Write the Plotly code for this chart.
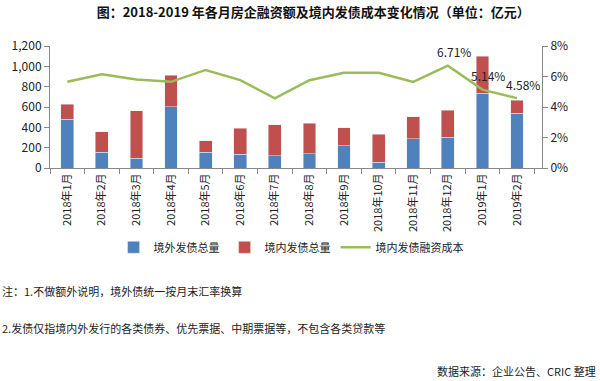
import plotly.graph_objects as go

months = ["2018年1月", "2018年2月", "2018年3月", "2018年4月", "2018年5月", "2018年6月", "2018年7月",
          "2018年8月", "2018年9月", "2018年10月", "2018年11月", "2018年12月", "2019年1月", "2019年2月"]
overseas = [479, 153, 98, 603, 153, 137, 120, 140, 221, 55, 287, 303, 734, 538]
totals = [626, 358, 561, 913, 267, 391, 424, 440, 397, 333, 505, 567, 1099, 665]
domestic = [t - o for t, o in zip(totals, overseas)]
cost = [5.65, 6.15, 5.8, 5.65, 6.43, 5.76, 4.57, 5.76, 6.24, 6.24, 5.65, 6.71, 5.14, 4.58]
labeled = {"2018年12月": "6.71%", "2019年1月": "5.14%", "2019年2月": "4.58%"}

FONT = "Noto Sans CJK SC"
BLUE = "#4F81BD"
RED = "#C0504D"
GREEN = "#9BBB59"

fig = go.Figure()
fig.add_trace(go.Bar(x=months, y=overseas, name="境外发债总量", marker_color=BLUE))
fig.add_trace(go.Bar(x=months, y=domestic, name="境内发债总量", marker_color=RED))
fig.add_trace(go.Scatter(x=months, y=cost, name="境内发债融资成本", mode="lines",
                         line=dict(color=GREEN, width=2.5), yaxis="y2"))

annotations = []
for m, c in zip(months, cost):
    if m in labeled:
        annotations.append(dict(x=m, y=c, xref="x", yref="y2", text=labeled[m], showarrow=False,
                                xshift=6, yshift=14, font=dict(size=12, color="#222", family=FONT)))

annotations += [
    dict(text="注：1.不做额外说明，境外债统一按月末汇率换算", xref="paper", yref="paper",
         x=-0.1017, y=(168.3 - 292) / 122.6, xanchor="left", yanchor="middle", showarrow=False,
         font=dict(size=11, color="#222", family=FONT)),
    dict(text="2.发债仅指境内外发行的各类债券、优先票据、中期票据等，不包含各类贷款等", xref="paper", yref="paper",
         x=-0.1017, y=(168.3 - 329) / 122.6, xanchor="left", yanchor="middle", showarrow=False,
         font=dict(size=11, color="#222", family=FONT)),
    dict(text="数据来源：企业公告、CRIC 整理", xref="paper", yref="paper",
         x=(598 - 50) / 491.7, y=(168.3 - 372) / 122.6, xanchor="right", yanchor="middle", showarrow=False,
         font=dict(size=11, color="#222", family=FONT)),
]

fig.update_layout(
    width=600, height=381,
    margin=dict(l=50, r=58.3, t=45.7, b=212.7),
    paper_bgcolor="white", plot_bgcolor="white",
    barmode="stack", bargap=0.63,
    font=dict(family=FONT, color="#222"),
    title=dict(text="<b>图：2018-2019 年各月房企融资额及境内发债成本变化情况（单位：亿元）</b>",
               x=0.522, xanchor="center", y=1 - 12 / 381, yanchor="middle", yref="container",
               font=dict(size=13, color="#111", family=FONT)),
    xaxis=dict(tickangle=-90, showline=True, linecolor="#888", ticks="outside", ticklen=5,
               tickcolor="#888", tickson="boundaries", tickfont=dict(size=11, family=FONT),
               showgrid=False),
    yaxis=dict(range=[0, 1200], dtick=200, tickformat=",d", showline=True, linecolor="#888",
               ticks="outside", ticklen=5, tickcolor="#888", showgrid=False, zeroline=False,
               tickfont=dict(size=12, family=FONT)),
    yaxis2=dict(range=[0, 8], dtick=2, ticksuffix="%", overlaying="y", side="right",
                showline=True, linecolor="#888", ticks="outside", ticklen=5, tickcolor="#888",
                showgrid=False, zeroline=False, tickfont=dict(size=12, family=FONT)),
    legend=dict(orientation="h", x=0.49, xanchor="center", y=(168.3 - 248) / 122.6, yanchor="middle",
                font=dict(size=11, family=FONT), traceorder="normal", itemwidth=30),
    annotations=annotations,
)

fig.write_html("out.html", config={"displayModeBar": False},
               post_script="document.body.style.margin='0px';document.body.style.overflow='hidden';")
